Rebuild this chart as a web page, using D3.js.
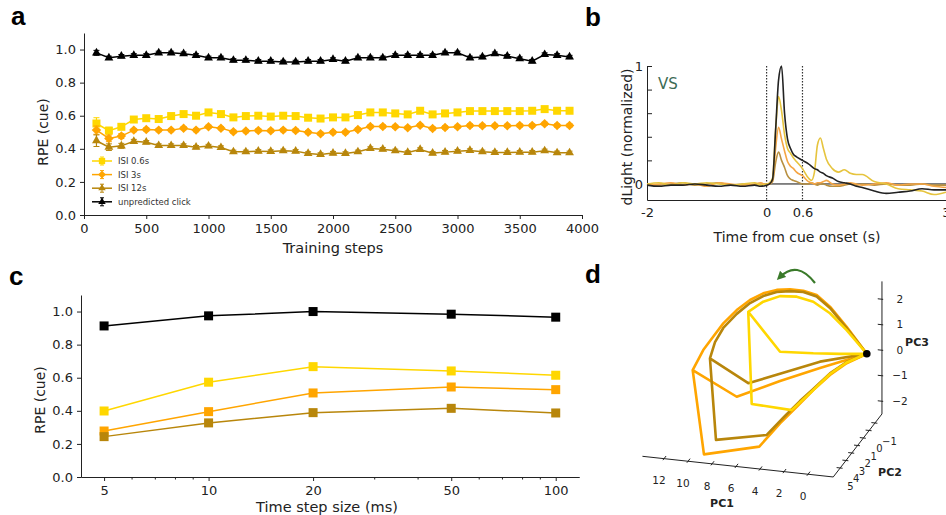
<!DOCTYPE html>
<html>
<head>
<meta charset="utf-8">
<script src="https://cdn.jsdelivr.net/npm/d3@7"></script>
<style>
  body { margin: 0; background: #fff; }
  svg { display: block; font-family: "DejaVu Sans", sans-serif; }
</style>
</head>
<body>
<svg id="fig" width="946" height="515"></svg>
<script>
//----- Panel a data: RPE at cue over training -----
var steps = [100,200,300,400,500,600,700,800,900,1000,1100,1200,1300,1400,1500,1600,1700,1800,1900,2000,
             2100,2200,2300,2400,2500,2600,2700,2800,2900,3000,3100,3200,3300,3400,3500,3600,3700,3800,3900];
var rpeIsi06 = [0.553,0.51,0.533,0.577,0.585,0.58,0.598,0.61,0.6,0.62,0.61,0.59,0.598,0.6,0.595,0.6,0.598,0.588,0.583,0.59,
                0.59,0.604,0.62,0.62,0.614,0.608,0.63,0.608,0.614,0.62,0.628,0.628,0.628,0.628,0.628,0.63,0.64,0.63,0.63];
var rpeIsi3 = [0.513,0.463,0.477,0.513,0.517,0.513,0.513,0.525,0.513,0.533,0.525,0.503,0.507,0.511,0.509,0.513,0.511,0.5,0.491,0.5,
               0.5,0.517,0.535,0.535,0.533,0.527,0.543,0.523,0.529,0.533,0.541,0.539,0.539,0.539,0.541,0.541,0.551,0.541,0.541];
var rpeIsi12 = [0.449,0.41,0.418,0.445,0.44,0.42,0.42,0.42,0.41,0.417,0.408,0.382,0.382,0.386,0.384,0.388,0.386,0.372,0.366,0.374,
                0.372,0.382,0.402,0.398,0.388,0.378,0.396,0.374,0.38,0.386,0.39,0.382,0.378,0.378,0.38,0.38,0.388,0.376,0.376];
var rpeClick = [0.98,0.95,0.96,0.965,0.965,0.98,0.98,0.975,0.965,0.95,0.95,0.935,0.935,0.93,0.93,0.925,0.925,0.93,0.93,0.94,
                0.93,0.95,0.95,0.95,0.965,0.965,0.965,0.965,0.98,0.98,0.95,0.955,0.975,0.96,0.945,0.93,0.97,0.965,0.955];
var errIsi06 = [0.035,0.02,0.015,0.012,0.01,0.01,0.01,0.01,0.01,0.01,0.01,0.01,0.01,0.01,0.01,0.01,0.01,0.01,0.01,0.01,
                0.01,0.01,0.01,0.01,0.01,0.01,0.01,0.01,0.01,0.01,0.01,0.01,0.01,0.01,0.01,0.01,0.01,0.01,0.01];
var errIsi3 = [0.025,0.02,0.015,0.01,0.01,0.01,0.01,0.01,0.01,0.01,0.01,0.01,0.01,0.01,0.01,0.01,0.01,0.01,0.01,0.01,
               0.01,0.01,0.01,0.01,0.01,0.01,0.01,0.01,0.01,0.01,0.01,0.01,0.01,0.01,0.01,0.01,0.01,0.01,0.01];
var errIsi12 = [0.035,0.02,0.015,0.012,0.01,0.01,0.01,0.01,0.01,0.01,0.01,0.01,0.01,0.01,0.01,0.01,0.01,0.01,0.01,0.01,
                0.01,0.01,0.01,0.01,0.01,0.01,0.01,0.01,0.01,0.01,0.01,0.01,0.01,0.01,0.01,0.01,0.01,0.01,0.01];
var errClick = [0.015,0.01,0.01,0.01,0.01,0.01,0.01,0.01,0.01,0.01,0.01,0.01,0.01,0.01,0.01,0.01,0.01,0.01,0.01,0.01,
                0.01,0.01,0.01,0.01,0.01,0.01,0.01,0.01,0.01,0.01,0.01,0.01,0.01,0.01,0.01,0.01,0.01,0.01,0.01];
var legendNames = ["ISI 0.6s", "ISI 3s", "ISI 12s", "unpredicted click"];

//----- Panel b data: dLight traces (normalized) -----
var timeB = [-2,-1.8,-1.6,-1.4,-1.2,-1.0,-0.8,-0.6,-0.4,-0.2,-0.1,0,0.05,0.1,0.15,0.2,0.25,0.3,0.35,0.4,0.45,0.5,
             0.6,0.7,0.75,0.8,0.85,0.9,0.95,1.0,1.1,1.2,1.3,1.4,1.5,1.6,1.8,2.0,2.2,2.4,2.6,2.8,3.0];
var dlClick = [-0.01,-0.02,-0.01,-0.01,0.0,-0.01,-0.02,-0.01,-0.02,-0.01,-0.02,-0.01,0.0,0.04,0.45,0.88,1.0,0.6,0.38,0.3,0.25,0.23,
               0.2,0.17,0.15,0.13,0.12,0.1,0.09,0.07,0.05,0.02,0.01,0.0,-0.02,-0.03,-0.06,-0.08,-0.07,-0.06,-0.04,-0.05,-0.05];
var dlIsi06 = [0.0,0.01,-0.01,0.01,0.0,0.01,0.0,-0.01,0.0,0.01,-0.01,0.0,0.01,0.05,0.45,0.74,0.62,0.42,0.3,0.26,0.22,0.19,
               0.13,0.05,0.03,0.1,0.33,0.39,0.3,0.21,0.13,0.1,0.12,0.09,0.08,0.08,0.02,0.0,-0.04,-0.05,-0.06,-0.09,-0.07];
var dlIsi3 = [-0.01,0.0,0.01,-0.01,0.0,-0.02,0.01,0.0,-0.01,0.0,0.01,-0.01,0.0,0.03,0.3,0.48,0.38,0.28,0.19,0.15,0.13,0.1,
              0.07,0.02,0.01,0.0,0.01,0.01,0.02,0.03,0.0,-0.01,0.0,0.01,0.0,-0.01,0.0,0.01,-0.01,0.0,0.0,-0.02,-0.03];
var dlIsi12 = [0.0,-0.01,0.0,0.01,-0.01,0.0,0.01,-0.01,0.0,-0.01,0.0,0.0,0.0,0.02,0.18,0.27,0.2,0.14,0.07,0.04,0.03,0.02,
               0.0,0.0,0.01,0.0,-0.01,0.0,0.0,-0.01,-0.02,-0.02,-0.01,0.0,-0.01,0.0,-0.01,0.0,-0.01,-0.01,0.0,-0.01,-0.01];

//----- Panel c data: RPE vs time step size -----
var stepSizes = [5, 10, 20, 50, 100];
var stepIsi06 = [0.399, 0.573, 0.667, 0.641, 0.615];
var stepIsi3 = [0.278, 0.395, 0.508, 0.544, 0.528];
var stepIsi12 = [0.244, 0.327, 0.389, 0.415, 0.387];
var stepClick = [0.913, 0.974, 1.0, 0.984, 0.966];

//----- Panel d data: state trajectories [PC1, PC2, PC3] -----
var trajIsi3 = [[-1.9,0,0.5],[-0.22,0,0.04],[1.17,0,-0.49],[2.56,0,-1.15],[3.94,0,-1.88],[5.33,0,-2.6],[7.06,0,-3.6],
                [11.67,0,-4.14],[12.61,0,-0.88],[11.73,0,-0.05],[10.89,0,0.52],[10.06,0,1.08],[8.94,0,1.66],[7.83,0,2.11],
                [6.73,0,2.43],[5.61,0,2.62],[4.5,0,2.7],[3.39,0,2.7],[2.28,0,2.59],[1.17,0,2.19],[-0.22,0,1.47],[-1.9,0,0.5],
                [2.0,0,-0.26],[5.33,0,-0.94],[8.94,0,-1.74],[12.61,0,-0.88]];
var trajIsi12 = [[-1.9,0,0.5],[-0.22,0,0.09],[1.17,0,-0.43],[2.56,0,-1.11],[3.67,0,-1.64],[4.92,0,-2.29],[6.44,0,-3.11],
                 [10.67,0,-3.52],[11.17,0,-0.35],[10.75,0,0.31],[10.06,0,0.9],[8.94,0,1.51],[7.83,0,1.99],[6.73,0,2.32],
                 [5.61,0,2.54],[4.5,0,2.63],[3.39,0,2.65],[2.28,0,2.53],[1.17,0,2.14],[-0.22,0,1.42],[-1.9,0,0.5],
                 [2.0,0,-0.01],[4.78,0,-0.55],[7.98,0,-1.16],[11.17,0,-0.35]];
var trajIsi06 = [[-1.9,0,0.5],[-0.22,0,0.07],[1.17,0,-0.45],[2.56,0,-1.15],[4.36,0,-2.03],[7.69,0,-1.96],[7.98,0,1.64],
                 [6.73,0,2.1],[5.33,0,2.39],[3.94,0,2.44],[2.56,0,2.31],[1.17,0,1.93],[-0.22,0,1.34],[-1.9,0,0.5],
                 [0.33,0,0.38],[2.56,0,0.29],[5.33,0,0.21],[7.98,0,1.64]];
var startPoint = [-1.9, 0, 0.5];
var pc1Ticks = [0, 2, 4, 6, 8, 10, 12];
var pc2Ticks = [-1, 0, 1, 2, 3, 4, 5];
var pc3Ticks = [-2, -1, 0, 1, 2];

var cYellow = "#ffd700", cOrange = "#ffa500", cBrown = "#b8860b", cBlack = "#000";

var svg = d3.select("#fig");

function panelLabel(txt, x, y) {
    svg.append("text").attr("x", x).attr("y", y).text(txt)
       .style("font-family", "'Liberation Sans', Arial, sans-serif")
       .style("font-weight", "bold").style("font-size", "26px");
}
function styleAxis(g, size) {
    g.selectAll("text").style("font-family", "'DejaVu Sans', sans-serif").style("font-size", size).attr("fill", "#222");
    g.selectAll("path, line").attr("stroke", "#222");
}
function sym(type, size, rot) {
    return function (g, x, y, color) {
        g.append("path").attr("d", d3.symbol().type(type).size(size)())
         .attr("transform", "translate(" + x + "," + y + ")" + (rot ? " rotate(45)" : ""))
         .attr("fill", color);
    };
}
function minus(t) { return t < 0 ? "\u2212" + (-t) : String(t); }

//================== Panel a ==================
var xA = d3.scaleLinear().domain([0, 4000]).range([84, 582]);
var yA = d3.scaleLinear().domain([0, 1.1]).range([215, 33]);
var ga = svg.append("g");

var axA = ga.append("g").attr("transform", "translate(0,215)")
    .call(d3.axisBottom(xA).tickValues([0,500,1000,1500,2000,2500,3000,3500,4000]).tickFormat(d3.format("d"))
          .tickSize(4).tickSizeOuter(0).tickPadding(5));
styleAxis(axA, "13px");
var ayA = ga.append("g").attr("transform", "translate(84,0)")
    .call(d3.axisLeft(yA).tickValues([0,0.2,0.4,0.6,0.8,1.0]).tickFormat(d3.format(".1f")).tickSize(4).tickSizeOuter(0).tickPadding(4));
styleAxis(ayA, "13px");

ga.append("text").attr("transform", "translate(48,132) rotate(-90)").attr("text-anchor", "middle")
  .style("font-size", "14px").attr("fill", "#222").text("RPE (cue)");
ga.append("text").attr("x", 333).attr("y", 253).attr("text-anchor", "middle")
  .style("font-size", "14.5px").attr("fill", "#222").text("Training steps");

var seriesA = [
    {vals: rpeIsi06, err: errIsi06, color: cYellow, mark: sym(d3.symbolSquare, 64), small: sym(d3.symbolSquare, 40)},
    {vals: rpeIsi3, err: errIsi3, color: cOrange, mark: sym(d3.symbolSquare, 45, true), small: sym(d3.symbolSquare, 30, true)},
    {vals: rpeIsi12, err: errIsi12, color: cBrown, mark: sym(d3.symbolTriangle, 34), small: sym(d3.symbolTriangle, 24)},
    {vals: rpeClick, err: errClick, color: cBlack, mark: sym(d3.symbolTriangle, 34), small: sym(d3.symbolTriangle, 24)}
];
var lineA = d3.line().x(function(d, i) { return xA(steps[i]); }).y(function(d) { return yA(d); });

seriesA.forEach(function (s) {
    var g = ga.append("g");
    //error bars
    s.vals.forEach(function (v, i) {
        var x = xA(steps[i]);
        g.append("line").attr("x1", x).attr("x2", x).attr("y1", yA(v - s.err[i])).attr("y2", yA(v + s.err[i]))
         .attr("stroke", s.color).attr("stroke-width", 1.2);
        [v - s.err[i], v + s.err[i]].forEach(function (e) {
            g.append("line").attr("x1", x - 3).attr("x2", x + 3).attr("y1", yA(e)).attr("y2", yA(e))
             .attr("stroke", s.color).attr("stroke-width", 1);
        });
    });
    g.append("path").datum(s.vals).attr("d", lineA).attr("fill", "none")
     .attr("stroke", s.color).attr("stroke-width", 1.5);
    s.vals.forEach(function (v, i) { s.mark(g, xA(steps[i]), yA(v), s.color); });
});

//legend
seriesA.forEach(function (s, i) {
    var y = 161 + i * 13.6;
    ga.append("line").attr("x1", 92).attr("x2", 112).attr("y1", y).attr("y2", y)
      .attr("stroke", s.color).attr("stroke-width", 1.5);
    ga.append("line").attr("x1", 102).attr("x2", 102).attr("y1", y - 4).attr("y2", y + 4)
      .attr("stroke", s.color).attr("stroke-width", 1);
    ga.append("line").attr("x1", 100).attr("x2", 104).attr("y1", y - 4).attr("y2", y - 4).attr("stroke", s.color);
    ga.append("line").attr("x1", 100).attr("x2", 104).attr("y1", y + 4).attr("y2", y + 4).attr("stroke", s.color);
    s.small(ga, 102, y, s.color);
    ga.append("text").attr("x", 118).attr("y", y + 3).style("font-size", "8.5px").attr("fill", "#333").text(legendNames[i]);
});
panelLabel("a", 11, 25);

//================== Panel b ==================
var xB = d3.scaleLinear().domain([-2, 3]).range([647, 946]);
var yB = d3.scaleLinear().domain([-0.136, 1]).range([200, 66]);
var gb = svg.append("g");

var axB = gb.append("g").attr("transform", "translate(0,200)")
    .call(d3.axisBottom(xB).tickValues([-2, 0, 0.6, 3]).tickFormat(function(d) { return d < 0 ? "-" + (-d) : String(d); })
          .tickSize(0).tickPadding(8));
styleAxis(axB, "13px");
var ayB = gb.append("g").attr("transform", "translate(647,0)")
    .call(d3.axisLeft(yB).tickValues([0, 0.2, 0.4, 0.6, 0.8, 1]).tickFormat(function(d) { return (d === 0 || d === 1) ? d : ""; })
          .tickSize(-5).tickSizeOuter(0).tickPadding(4));
styleAxis(ayB, "13px");

//zero reference line after cue
gb.append("line").attr("x1", xB(0)).attr("x2", xB(3)).attr("y1", yB(0)).attr("y2", yB(0))
  .attr("stroke", "#111").attr("stroke-width", 1);
//cue and ISI markers
[0, 0.6].forEach(function (t) {
    gb.append("line").attr("x1", xB(t)).attr("x2", xB(t)).attr("y1", yB(1)).attr("y2", yB(-0.136))
      .attr("stroke", "#333").attr("stroke-width", 1.2).attr("stroke-dasharray", "1.5,1.5");
});

var lineB = d3.line().x(function(d, i) { return xB(timeB[i]); }).y(function(d) { return yB(d); }).curve(d3.curveMonotoneX);
[{v: dlIsi12, c: "#b89040"}, {v: dlIsi3, c: "#f5a645"}, {v: dlIsi06, c: "#e6c43e"}, {v: dlClick, c: "#222"}].forEach(function (s) {
    gb.append("path").datum(s.v).attr("d", lineB).attr("fill", "none")
      .attr("stroke", s.c).attr("stroke-width", 1.6).attr("stroke-linejoin", "round");
});

gb.append("text").attr("x", 658).attr("y", 89).style("font-size", "15px").attr("fill", "#3d6b55").text("VS");
gb.append("text").attr("transform", "translate(632,137) rotate(-90)").attr("text-anchor", "middle")
  .style("font-size", "14px").attr("fill", "#222").text("dLight (normalized)");
gb.append("text").attr("x", 797).attr("y", 242).attr("text-anchor", "middle")
  .style("font-size", "14px").attr("fill", "#222").text("Time from cue onset (s)");
panelLabel("b", 585, 26);

//================== Panel c ==================
var xC = d3.scaleLog().domain([4.29, 116.7]).range([81, 579]);
var yC = d3.scaleLinear().domain([0, 1.1]).range([477, 295]);
var gc = svg.append("g");

var minorC = [6, 7, 8, 9, 30, 40, 60, 70, 80, 90];
var axCm = gc.append("g").attr("transform", "translate(0,477)")
    .call(d3.axisBottom(xC).tickValues(minorC).tickFormat("").tickSize(2.5).tickSizeOuter(0));
styleAxis(axCm, "13px");
var axC = gc.append("g").attr("transform", "translate(0,477)")
    .call(d3.axisBottom(xC).tickValues(stepSizes).tickFormat(d3.format("d")).tickSize(4).tickSizeOuter(0).tickPadding(5));
styleAxis(axC, "13px");
var ayC = gc.append("g").attr("transform", "translate(81,0)")
    .call(d3.axisLeft(yC).tickValues([0,0.2,0.4,0.6,0.8,1.0]).tickFormat(d3.format(".1f")).tickSize(4).tickSizeOuter(0).tickPadding(4));
styleAxis(ayC, "13px");

gc.append("text").attr("transform", "translate(45,400) rotate(-90)").attr("text-anchor", "middle")
  .style("font-size", "14px").attr("fill", "#222").text("RPE (cue)");
gc.append("text").attr("x", 327).attr("y", 512).attr("text-anchor", "middle")
  .style("font-size", "14.5px").attr("fill", "#222").text("Time step size (ms)");

var lineC = d3.line().x(function(d, i) { return xC(stepSizes[i]); }).y(function(d) { return yC(d); });
[{v: stepClick, c: cBlack}, {v: stepIsi06, c: cYellow}, {v: stepIsi3, c: cOrange}, {v: stepIsi12, c: cBrown}].forEach(function (s) {
    gc.append("path").datum(s.v).attr("d", lineC).attr("fill", "none").attr("stroke", s.c).attr("stroke-width", 1.5);
    s.v.forEach(function (v, i) {
        gc.append("rect").attr("x", xC(stepSizes[i]) - 4.5).attr("y", yC(v) - 4.5)
          .attr("width", 9).attr("height", 9).attr("fill", s.c);
    });
});
panelLabel("c", 9, 285);

//================== Panel d ==================
// simple fixed-view projection of the 3d axes box
var pc1Range = [-2.1, 13.8], pc2Range = [-2.2, 6.2], pc3Range = [-2.5, 2.7];
var px1 = d3.scaleLinear().domain([0, 1]).range([0, -12]), py1 = d3.scaleLinear().domain([0, 1]).range([0, -1.3]);
var px2 = d3.scaleLinear().domain([0, 1]).range([0, -5.8]), py2 = d3.scaleLinear().domain([0, 1]).range([0, 7.5]);
var py3 = d3.scaleLinear().domain([0, 1]).range([0, -25.5]);
function proj(p) {
    return [844 + px1(p[0]) + px2(p[1]), 364 + py1(p[0]) + py2(p[1]) + py3(p[2])];
}
var gd = svg.append("g");
var axisColor = "#222";

function seg(a, b, w) {
    var A = proj(a), B = proj(b);
    gd.append("line").attr("x1", A[0]).attr("y1", A[1]).attr("x2", B[0]).attr("y2", B[1])
      .attr("stroke", axisColor).attr("stroke-width", w || 1);
}
//axis lines
seg([pc1Range[1], pc2Range[1], pc3Range[0]], [pc1Range[0], pc2Range[1], pc3Range[0]]);
seg([pc1Range[0], pc2Range[1], pc3Range[0]], [pc1Range[0], pc2Range[0], pc3Range[0]]);
seg([pc1Range[0], pc2Range[0], pc3Range[0]], [pc1Range[0], pc2Range[0], pc3Range[1]]);

var dFont = "10.5px";
pc1Ticks.forEach(function (t) {
    seg([t, pc2Range[1] - 0.35, pc3Range[0]], [t, pc2Range[1] + 0.2, pc3Range[0]]);
    var p = proj([t, pc2Range[1], pc3Range[0]]);
    gd.append("text").attr("x", p[0] - 5).attr("y", p[1] + 22).attr("text-anchor", "middle").attr("dy", "0.35em")
      .style("font-size", dFont).attr("fill", "#222").text(t);
});
pc2Ticks.forEach(function (t) {
    seg([pc1Range[0] + 0.3, t, pc3Range[0]], [pc1Range[0] - 0.2, t, pc3Range[0]]);
    var p = proj([pc1Range[0], t, pc3Range[0]]);
    gd.append("text").attr("x", p[0] + 7).attr("y", p[1] + 18.5).attr("dy", "0.35em")
      .style("font-size", "10px").attr("fill", "#222").text(minus(t));
});
pc3Ticks.forEach(function (t) {
    seg([pc1Range[0] + 0.35, pc2Range[0], t], [pc1Range[0] - 0.1, pc2Range[0], t]);
    var p = proj([pc1Range[0], pc2Range[0], t]);
    gd.append("text").attr("x", p[0] + 18).attr("y", p[1]).attr("text-anchor", "middle").attr("dy", "0.35em")
      .style("font-size", dFont).attr("fill", "#222").text(minus(t));
});
[["PC1", 722, 503], ["PC2", 890, 472], ["PC3", 917, 342]].forEach(function (l) {
    gd.append("text").attr("x", l[1]).attr("y", l[2]).attr("text-anchor", "middle").attr("dy", "0.35em")
      .style("font-size", "11px").style("font-weight", "bold").attr("fill", "#222").text(l[0]);
});

var lineD = d3.line().x(function(p) { return proj(p)[0]; }).y(function(p) { return proj(p)[1]; });
[{v: trajIsi3, c: cOrange}, {v: trajIsi12, c: cBrown}, {v: trajIsi06, c: cYellow}].forEach(function (s) {
    gd.append("path").datum(s.v).attr("d", lineD).attr("fill", "none").attr("stroke", s.c)
      .attr("stroke-width", 2.6).attr("stroke-linejoin", "round");
});
var sp = proj(startPoint);
gd.append("circle").attr("cx", sp[0]).attr("cy", sp[1]).attr("r", 3.8).attr("fill", "#000");

//rotation arrow
svg.append("defs").append("marker").attr("id", "ah").attr("viewBox", "0 0 10 10").attr("refX", 5).attr("refY", 5)
   .attr("markerWidth", 4).attr("markerHeight", 4).attr("orient", "auto")
   .append("path").attr("d", "M0,0 L10,5 L0,10 z").attr("fill", "#3a7a2a");
gd.append("path").attr("d", "M815,283 Q797,260 780,277").attr("fill", "none")
  .attr("stroke", "#3a7a2a").attr("stroke-width", 2.2).attr("marker-end", "url(#ah)");
panelLabel("d", 585, 283);
</script>
</body>
</html>
